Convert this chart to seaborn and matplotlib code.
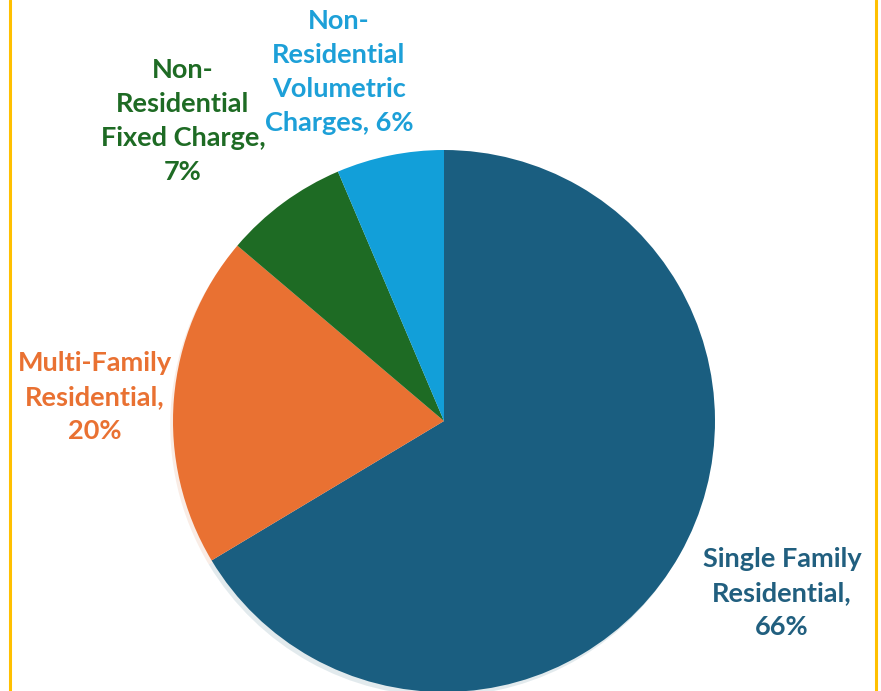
import matplotlib
matplotlib.use("Agg")
import matplotlib.pyplot as plt
import seaborn as sns
from matplotlib.lines import Line2D

sns.set_theme(style="white")
plt.rcParams['font.family'] = ['Lato', 'DejaVu Sans']

categories = ["Single Family\nResidential", "Multi-Family\nResidential", "Non-\nResidential\nFixed Charge", "Non-\nResidential\nVolumetric\nCharges"]
values = [66.4, 19.8, 7.4, 6.4]
colors = ["#1A5E80", "#E97132", "#1E6B24", "#129FD9"]
label_colors = ["#215F7F", "#E97132", "#1E6B24", "#1DA0D8"]
label_texts = ["Single Family\nResidential,\n{p}%", "Multi-Family\nResidential,\n{p}%",
               "Non-\nResidential\nFixed Charge,\n{p}%", "Non-\nResidential\nVolumetric\nCharges, {p}%"]

W, H = 881, 691
fig = plt.figure(figsize=(W / 100, H / 100), dpi=100)
ax = fig.add_axes([0, 0, 1, 1])

cx, cy, r = 444, H - 421, 271
ax.pie(values, colors=colors, startangle=90, counterclock=False,
       center=(cx, cy), radius=r, frame=True,
       wedgeprops=dict(linewidth=0, edgecolor='none'),
       shadow=dict(ox=-2, oy=-3, shade=0.1, alpha=0.12))
ax.set_xlim(0, W)
ax.set_ylim(0, H)
ax.set_aspect('equal')
ax.axis('off')

label_pos = [(782, H - 593), (95, H - 397), (183, H - 121), (339, H - 72)]
total = sum(values)
for txt, (x, y), c, v in zip(label_texts, label_pos, label_colors, values):
    ax.text(x, y, txt.format(p=round(100 * v / total)), ha='center', va='center',
            color=c, fontsize=19.5, fontweight='bold', linespacing=1.5)

for xp in (9.5, 875.5):
    fig.add_artist(Line2D([xp / W, xp / W], [0, 1], color="#FFC000", linewidth=2.2,
                          transform=fig.transFigure))

fig.savefig("out.png", dpi=100, facecolor="white")
